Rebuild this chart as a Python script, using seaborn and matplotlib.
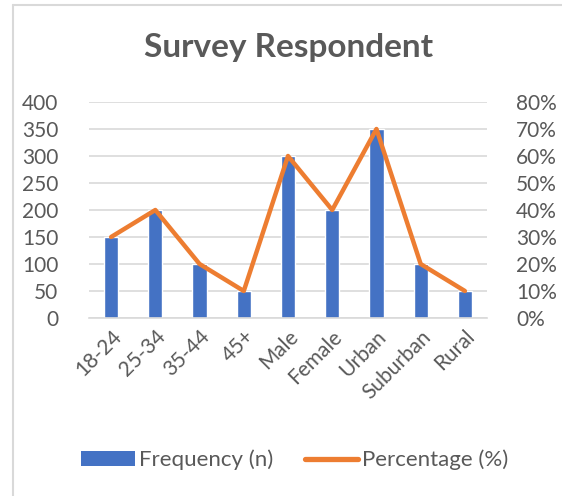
import matplotlib
matplotlib.use("Agg")
import matplotlib.pyplot as plt
import seaborn as sns
import pandas as pd
from matplotlib.patches import Patch
from matplotlib.lines import Line2D
from matplotlib.ticker import FuncFormatter

categories = ["18-24", "25-34", "35-44", "45+", "Male", "Female", "Urban", "Suburban", "Rural"]
frequency = [150, 200, 100, 50, 300, 200, 350, 100, 50]
percentage = [30, 40, 20, 10, 60, 40, 70, 20, 10]
left_ticks = [0, 50, 100, 150, 200, 250, 300, 350, 400]
right_ticks = [0, 10, 20, 30, 40, 50, 60, 70, 80]

sns.set_style("white")
plt.rcParams['font.family'] = ['Lato', 'DejaVu Sans']

BLUE = "#4472C4"
ORANGE = "#ED7D31"
GRAY = "#595959"
GRID = "#D9D9D9"

df = pd.DataFrame({"cat": categories, "freq": frequency, "pct": percentage})

fig = plt.figure(figsize=(5.62, 4.96), dpi=100)
ax = fig.add_axes([89/562, 1-318/496, 398/562, 216/496])

sns.barplot(data=df, x="cat", y="freq", color=BLUE, width=0.32, saturation=1, ax=ax, zorder=2)
ax.set_ylim(0, 400)
ax.set_yticks(left_ticks)
ax.set_xlim(-0.5, len(categories) - 0.5)
ax.yaxis.grid(True, color=GRID, linewidth=1.2, zorder=0)
ax.set_axisbelow(True)
for s in ["left", "right", "top"]:
    ax.spines[s].set_visible(False)
ax.spines["bottom"].set_color(GRID)
ax.spines["bottom"].set_linewidth(1.2)
ax.set_xlabel("")
ax.set_ylabel("")
ax.tick_params(axis="both", length=0, colors=GRAY, labelsize=15)
ax.tick_params(axis="y", pad=22)
plt.setp(ax.get_xticklabels(), rotation=45, ha="right", rotation_mode="anchor")
ax.tick_params(axis="x", pad=6)

ax2 = ax.twinx()
x_pos = list(range(len(categories)))
sns.lineplot(x=x_pos, y=percentage, color=ORANGE, linewidth=3.2, ax=ax2, sort=False,
             solid_capstyle="round", solid_joinstyle="round", zorder=3)
ax2.set_ylim(0, 80)
ax2.set_yticks(right_ticks)
ax2.yaxis.set_major_formatter(FuncFormatter(lambda v, p: f"{int(v)}%"))
for s in ["left", "right", "top", "bottom"]:
    ax2.spines[s].set_visible(False)
ax2.tick_params(axis="y", length=0, colors=GRAY, labelsize=15, pad=21)
ax2.set_ylabel("")

fig.text(289/562, 1-48/496, "Survey Respondent", ha="center", va="center",
         fontsize=24, fontweight="bold", color=GRAY)

handles = [Patch(facecolor=BLUE, edgecolor="none"),
           Line2D([0], [0], color=ORANGE, linewidth=3.8, solid_capstyle="round")]
fig.legend(handles, ["Frequency (n)", "Percentage (%)"], loc="center",
           bbox_to_anchor=(295/562, 1-460/496), ncol=2, frameon=False,
           fontsize=16, labelcolor=GRAY, handlelength=2.4, handleheight=0.65,
           handletextpad=0.2, columnspacing=1.4)

# chart border
fig.add_artist(Line2D([13/562, 13/562], [0, 1-5/496], color=GRID, linewidth=1.5))
fig.add_artist(Line2D([13/562, 1], [1-5/496, 1-5/496], color=GRID, linewidth=1.5))

fig.savefig("out.png", dpi=100)
